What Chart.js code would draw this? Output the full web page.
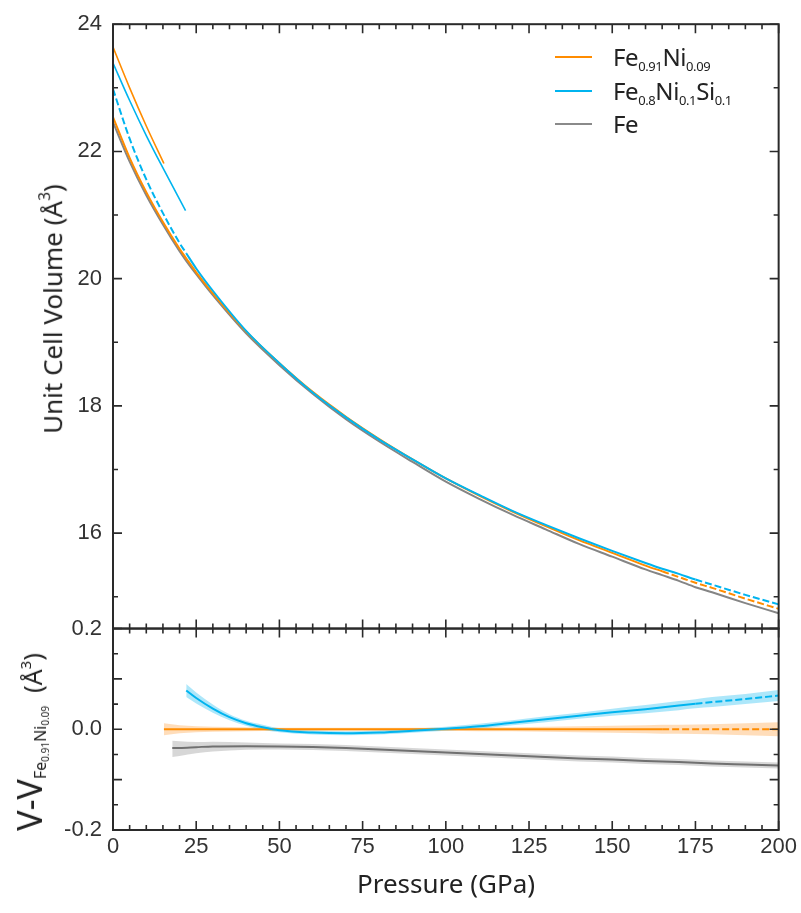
<!DOCTYPE html>
<html>
<head>
<meta charset="utf-8">
<script src="https://cdn.jsdelivr.net/npm/chart.js@4.4.1/dist/chart.umd.min.js"></script>
<style>
  body { margin: 0; background: #fff; }
  #wrap { position: relative; width: 801px; height: 913px; font-family: "Noto Sans", sans-serif; color: #222; }
  #chart { position: absolute; left: 0; top: 0; }
  .lbl { position: absolute; white-space: nowrap; line-height: 1; }
  .rot { transform: translate(-50%, -50%) rotate(-90deg); }
  .sup { font-size: 0.6em; vertical-align: 0.75em; }
  .leg { position: absolute; left: 613px; font-size: 24px; line-height: 24px; white-space: nowrap; letter-spacing: -0.4px; }
  .leg .s { font-size: 13px; vertical-align: -5px; }
  .sw { position: absolute; left: 555px; width: 37px; height: 2px; }
</style>
</head>
<body>
<div id="wrap">
  <canvas id="chart" width="801" height="913"></canvas>

  <div class="lbl" style="left:446px; top:883px; font-size:26px; transform:translate(-50%,-50%)">Pressure (GPa)</div>
  <div class="lbl rot" style="left:51px; top:309px; font-size:26px">Unit Cell Volume (Å<span class="sup">3</span>)</div>
  <div class="lbl rot" style="left:31px; top:742px; font-size:25px"><span style="font-size:34px">V-V</span><span style="font-size:16px; vertical-align:-4px">Fe<span style="font-size:10px; vertical-align:-3px">0.91</span>Ni<span style="font-size:10px; vertical-align:-3px">0.09</span></span>&nbsp;&nbsp;(Å<span class="sup">3</span>)</div>

  <div class="sw" style="top:56px; background:#ff8c00"></div>
  <div class="leg" style="top:45px">Fe<span class="s">0.91</span>Ni<span class="s">0.09</span></div>
  <div class="sw" style="top:90px; background:#00b4ef"></div>
  <div class="leg" style="top:79px">Fe<span class="s">0.8</span>Ni<span class="s">0.1</span>Si<span class="s">0.1</span></div>
  <div class="sw" style="top:123px; background:#8a8a8a"></div>
  <div class="leg" style="top:112px">Fe</div>
</div>

<script>
// top panel: unit cell volume (A^3) vs pressure (GPa)
const pressure = [0, 5, 10, 15, 20, 22, 25, 30, 40, 50, 60, 70, 80, 90, 100, 110, 120, 130, 140, 150, 160, 165, 170, 175, 180, 190, 200];
const volFeNi = [22.54, 21.90, 21.36, 20.89, 20.47, 20.32, 20.10, 19.77, 19.17, 18.67, 18.22, 17.83, 17.48, 17.16, 16.86, 16.59, 16.34, 16.11, 15.89, 15.69, 15.49, 15.40, 15.31, 15.22, 15.14, 14.97, 14.81];
const volFeNiSi = [22.98, 22.20, 21.56, 21.03, 20.56, 20.40, 20.16, 19.81, 19.18, 18.67, 18.21, 17.82, 17.47, 17.16, 16.86, 16.60, 16.35, 16.13, 15.92, 15.72, 15.53, 15.44, 15.36, 15.27, 15.19, 15.03, 14.88];
const volFe = [22.46, 21.84, 21.31, 20.85, 20.43, 20.28, 20.07, 19.74, 19.14, 18.64, 18.19, 17.79, 17.44, 17.12, 16.81, 16.54, 16.29, 16.06, 15.83, 15.63, 15.43, 15.34, 15.25, 15.15, 15.07, 14.90, 14.74];

// low pressure branches
const pressureFeNiLow = [0, 5, 10, 15.3];
const volFeNiLow = [23.64, 23.00, 22.40, 21.81];
const pressureFeNiSiLow = [0, 5, 10, 15, 21.8];
const volFeNiSiLow = [23.39, 22.80, 22.25, 21.74, 21.07];

// bottom panel: V - V(Fe0.91Ni0.09) with uncertainty bands
const pDiffFeNiSi = [22, 25, 30, 35, 40, 45, 50, 60, 70, 80, 90, 100, 110, 120, 130, 140, 150, 160, 170, 175, 180, 190, 200];
const diffFeNiSi = [0.077, 0.062, 0.041, 0.024, 0.012, 0.004, -0.002, -0.0065, -0.008, -0.0065, -0.003, 0.001, 0.006, 0.013, 0.020, 0.027, 0.034, 0.040, 0.047, 0.0505, 0.054, 0.060, 0.067];
const loFeNiSi = [0.064, 0.051, 0.033, 0.018, 0.007, -0.001, -0.006, -0.0105, -0.012, -0.0105, -0.007, -0.003, 0.001, 0.008, 0.014, 0.021, 0.027, 0.032, 0.038, 0.0415, 0.044, 0.050, 0.056];
const hiFeNiSi = [0.090, 0.073, 0.049, 0.030, 0.017, 0.009, 0.002, -0.0025, -0.004, -0.0025, 0.001, 0.005, 0.011, 0.018, 0.026, 0.033, 0.041, 0.048, 0.056, 0.0595, 0.064, 0.070, 0.078];

const pDiffFeNi = [15.3, 20, 25, 30, 40, 50, 60, 70, 80, 90, 100, 110, 120, 130, 140, 150, 160, 165, 170, 180, 190, 200];
const diffFeNi = [0, 0, 0, 0, 0, 0, 0, 0, 0, 0, 0, 0, 0, 0, 0, 0, 0, 0, 0, 0, 0, 0];
const loFeNi = [-0.012, -0.008, -0.006, -0.005, -0.004, -0.003, -0.003, -0.003, -0.003, -0.003, -0.003, -0.004, -0.004, -0.005, -0.006, -0.007, -0.008, -0.009, -0.009, -0.010, -0.012, -0.014];
const hiFeNi = [0.012, 0.008, 0.006, 0.005, 0.004, 0.003, 0.003, 0.003, 0.003, 0.003, 0.003, 0.004, 0.004, 0.005, 0.006, 0.007, 0.008, 0.009, 0.009, 0.010, 0.012, 0.014];

const pDiffFe = [17.8, 20, 25, 30, 40, 50, 60, 70, 80, 90, 100, 110, 120, 130, 140, 150, 160, 170, 180, 190, 200];
const diffFe = [-0.037, -0.037, -0.0355, -0.034, -0.0335, -0.034, -0.035, -0.037, -0.040, -0.043, -0.046, -0.049, -0.052, -0.055, -0.058, -0.060, -0.063, -0.065, -0.068, -0.070, -0.072];
const loFe = [-0.055, -0.053, -0.0475, -0.044, -0.0405, -0.040, -0.041, -0.043, -0.046, -0.049, -0.052, -0.055, -0.058, -0.061, -0.064, -0.066, -0.069, -0.071, -0.074, -0.076, -0.078];
const hiFe = [-0.023, -0.024, -0.0255, -0.025, -0.0265, -0.028, -0.029, -0.031, -0.034, -0.037, -0.040, -0.043, -0.046, -0.049, -0.052, -0.054, -0.057, -0.059, -0.062, -0.064, -0.066];

// tick labels
const pressureTicks = [0, 25, 50, 75, 100, 125, 150, 175, 200];
const volTicks = [16, 18, 20, 22, 24];
const diffTicks = [-0.2, -0.1, 0, 0.1, 0.2];

const ORANGE = "#ff8c00";
const BLUE = "#00b4ef";
const GRAY = "#858585";
const DASH = [7, 3];

function pts(p, v) {
  return p.map((x, i) => ({ x: x, y: v[i] }));
}

function curve(p, v, axis, color, width, dashed) {
  const ds = {
    data: pts(p, v),
    yAxisID: axis,
    borderColor: color,
    borderWidth: width,
    pointRadius: 0,
    fill: false,
    cubicInterpolationMode: "monotone",
    order: 1,
  };
  if (dashed) {
    ds.segment = {
      borderDash: (c) => (dashed(c.p0.parsed.x, c.p1.parsed.x) ? DASH : undefined),
    };
  }
  return ds;
}

function band(p, lo, hi, color) {
  return [
    { data: pts(p, lo), yAxisID: "yd", borderColor: "transparent", borderWidth: 0, pointRadius: 0, fill: false, cubicInterpolationMode: "monotone", order: 2 },
    { data: pts(p, hi), yAxisID: "yd", borderColor: "transparent", borderWidth: 0, pointRadius: 0, fill: "-1", backgroundColor: color, cubicInterpolationMode: "monotone", order: 2 },
  ];
}

const datasets = [
  curve(pressure, volFeNiSi, "yv", BLUE, 2, (a, b) => b <= 22 || a >= 175),
  curve(pressure, volFeNi, "yv", ORANGE, 2, (a) => a >= 165),
  curve(pressure, volFe, "yv", GRAY, 2),
  curve(pressureFeNiLow, volFeNiLow, "yv", ORANGE, 1.6),
  curve(pressureFeNiSiLow, volFeNiSiLow, "yv", BLUE, 1.6),
  ...band(pDiffFeNiSi, loFeNiSi, hiFeNiSi, "rgba(0,180,239,0.32)"),
  ...band(pDiffFeNi, loFeNi, hiFeNi, "rgba(255,150,40,0.32)"),
  ...band(pDiffFe, loFe, hiFe, "rgba(130,130,130,0.32)"),
  curve(pDiffFeNiSi, diffFeNiSi, "yd", BLUE, 2, (a) => a >= 175),
  curve(pDiffFeNi, diffFeNi, "yd", ORANGE, 2, (a) => a >= 165),
  curve(pDiffFe, diffFe, "yd", "#707070", 2),
];

// frame + inward ticks for both panels
const frameTicks = {
  id: "frameTicks",
  afterDatasetsDraw(chart) {
    const ctx = chart.ctx;
    const left = chart.chartArea.left;
    const right = chart.chartArea.right;
    const xs = chart.scales.x;
    ctx.save();
    ctx.strokeStyle = "#2a2a2a";
    [["yv", 15, 24, 1, 2], ["yd", -4, 4, 1, 2]].forEach(([id, from, to, step, every]) => {
      const s = chart.scales[id];
      const top = s.top;
      const bottom = s.bottom;
      ctx.lineWidth = 1.6;
      ctx.beginPath();
      for (let v = 0; v <= 200; v += 5) {
        const px = xs.getPixelForValue(v);
        const len = v % 25 === 0 ? 9 : 5;
        ctx.moveTo(px, top);
        ctx.lineTo(px, top + len);
        ctx.moveTo(px, bottom);
        ctx.lineTo(px, bottom - len);
      }
      for (let i = from; i <= to; i += step) {
        const val = id === "yd" ? i * 0.05 : i;
        const py = s.getPixelForValue(val);
        const len = Math.abs(i) % every === 0 ? 9 : 5;
        ctx.moveTo(left, py);
        ctx.lineTo(left + len, py);
        ctx.moveTo(right, py);
        ctx.lineTo(right - len, py);
      }
      ctx.stroke();
      ctx.lineWidth = 2;
      ctx.strokeRect(left, top, right - left, bottom - top);
    });
    ctx.restore();
  },
};

const tickFont = { family: "'Liberation Sans', Arial, sans-serif", size: 22 };

new Chart(document.getElementById("chart"), {
  type: "line",
  data: { datasets: datasets },
  options: {
    responsive: false,
    animation: false,
    devicePixelRatio: 1,
    events: [],
    layout: { padding: { top: 16, right: 21, bottom: 0, left: 0 } },
    plugins: { legend: { display: false }, tooltip: { enabled: false } },
    scales: {
      x: {
        type: "linear",
        min: 0,
        max: 200,
        afterBuildTicks: (s) => { s.ticks = pressureTicks.map((v) => ({ value: v })); },
        afterFit: (s) => { s.height = 83; },
        ticks: { font: tickFont, color: "#333", padding: 4, maxRotation: 0, autoSkip: false },
        grid: { display: false, drawTicks: false },
        border: { display: false },
      },
      yd: {
        type: "linear",
        position: "left",
        stack: "panels",
        stackWeight: 1,
        min: -0.2,
        max: 0.2,
        afterBuildTicks: (s) => { s.ticks = diffTicks.map((v) => ({ value: v })); },
        afterFit: (s) => { s.width = 113; },
        ticks: { font: tickFont, color: "#333", padding: 11, callback: (v) => v.toFixed(1) },
        grid: { display: false, drawTicks: false },
        border: { display: false },
      },
      yv: {
        type: "linear",
        position: "left",
        stack: "panels",
        stackWeight: 3,
        min: 14.5,
        max: 24,
        afterBuildTicks: (s) => { s.ticks = volTicks.map((v) => ({ value: v })); },
        afterFit: (s) => { s.width = 113; },
        ticks: { font: tickFont, color: "#333", padding: 11, callback: (v) => String(v) },
        grid: { display: false, drawTicks: false },
        border: { display: false },
      },
    },
  },
  plugins: [frameTicks],
});
</script>
</body>
</html>
